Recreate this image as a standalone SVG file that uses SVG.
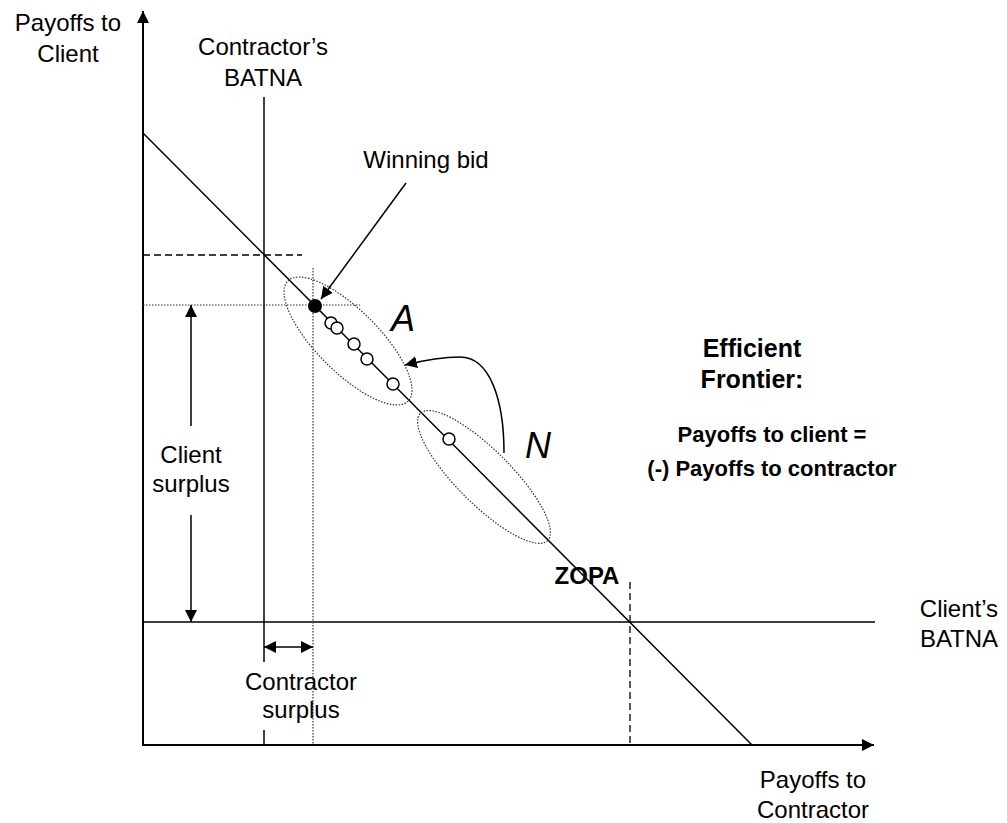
<svg xmlns="http://www.w3.org/2000/svg" width="1007" height="823" viewBox="0 0 1007 823">
<style>
.t{font-family:"Liberation Sans",Arial,sans-serif;font-size:24px;fill:#000;text-anchor:middle}
.b{font-weight:bold}
.i{font-style:italic;font-size:36px;text-anchor:start}
.f25{font-size:25px}
.f22{font-size:22px}
.ln{stroke:#000;stroke-width:1.5;fill:none}
.ax{stroke:#000;stroke-width:2;fill:none}
.dash{stroke:#000;stroke-width:1.3;stroke-dasharray:7,4;fill:none}
.dot{stroke:#333;stroke-width:1.2;stroke-dasharray:1.5,1.5;fill:none}
.oc{fill:#fff;stroke:#000;stroke-width:1.5}
</style>
<defs>
<marker id="ah" viewBox="0 0 12 12" refX="12" refY="6" markerWidth="12" markerHeight="12" markerUnits="userSpaceOnUse" orient="auto-start-reverse">
<path d="M0,0 L12,6 L0,12 z" fill="#000"/>
</marker>
</defs>
<rect width="1007" height="823" fill="#fff"/>
<g id="connectors">
<line class="ax" x1="143" y1="746" x2="143" y2="11" marker-end="url(#ah)"/>
<line class="ax" x1="142" y1="745" x2="874" y2="745" marker-end="url(#ah)"/>
<line class="ln" x1="143" y1="133" x2="752" y2="745"/>
<line class="ln" x1="264" y1="97" x2="264" y2="662"/>
<line class="ln" x1="264" y1="730" x2="264" y2="745"/>
<line class="ln" x1="143" y1="622" x2="875" y2="622"/>
<line class="dash" x1="143" y1="255" x2="302" y2="255"/>
<line class="dash" x1="630" y1="582" x2="630" y2="745"/>
<line class="dot" x1="143" y1="305" x2="360" y2="305"/>
<line class="dot" x1="313" y1="268" x2="313" y2="745"/>
<line class="ln" x1="191" y1="426" x2="191" y2="305" marker-end="url(#ah)"/>
<line class="ln" x1="191" y1="515" x2="191" y2="622" marker-end="url(#ah)"/>
<line class="ln" x1="264" y1="647" x2="313" y2="647" marker-start="url(#ah)" marker-end="url(#ah)"/>
<line class="ln" x1="406" y1="183" x2="321" y2="299" stroke-width="2" marker-end="url(#ah)"/>
<path class="ln" stroke-width="2" d="M504,453 C504,400 490,357 460,357 C440,357 425,360 405,365" marker-end="url(#ah)"/>
</g>
<g id="ellipse-A">
<ellipse class="dot" cx="348" cy="341" rx="85" ry="31" transform="rotate(45 348 341)"/>
</g>
<g id="ellipse-N">
<ellipse class="dot" cx="484" cy="477" rx="90" ry="27" transform="rotate(45 484 477)"/>
</g>
<g id="bids">
<circle cx="315" cy="306" r="7" fill="#000"/>
<circle class="oc" cx="331" cy="323" r="6"/>
<circle class="oc" cx="337" cy="328" r="6"/>
<circle class="oc" cx="354" cy="344" r="6"/>
<circle class="oc" cx="367" cy="359" r="6"/>
<circle class="oc" cx="393" cy="384" r="6"/>
<circle class="oc" cx="449" cy="439" r="6"/>
</g>
<g id="label-y-axis"><text class="t" x="68" y="31">Payoffs to</text><text class="t" x="68" y="62">Client</text></g>
<g id="label-x-axis"><text class="t" x="813" y="788">Payoffs to</text><text class="t" x="813" y="818">Contractor</text></g>
<g id="label-contractor-batna"><text class="t" x="263" y="55">Contractor’s</text><text class="t" x="263" y="86">BATNA</text></g>
<g id="label-client-batna"><text class="t" x="959" y="617">Client’s</text><text class="t" x="959" y="647">BATNA</text></g>
<g id="label-winning-bid"><text class="t" x="426" y="168">Winning bid</text></g>
<g id="label-client-surplus"><text class="t" x="191" y="463">Client</text><text class="t" x="191" y="492">surplus</text></g>
<g id="label-contractor-surplus"><text class="t" x="301" y="690">Contractor</text><text class="t" x="301" y="718">surplus</text></g>
<g id="label-A"><text class="t i" x="391" y="331">A</text></g>
<g id="label-N"><text class="t i" x="525" y="458">N</text></g>
<g id="label-zopa"><text class="t b" x="587" y="584">ZOPA</text></g>
<g id="label-frontier">
<text class="t b f25" x="752" y="357">Efficient</text>
<text class="t b f25" x="752" y="388">Frontier:</text>
<text class="t b f22" x="772" y="442">Payoffs to client =</text>
<text class="t b f22" x="772" y="476">(-) Payoffs to contractor</text>
</g>
</svg>
